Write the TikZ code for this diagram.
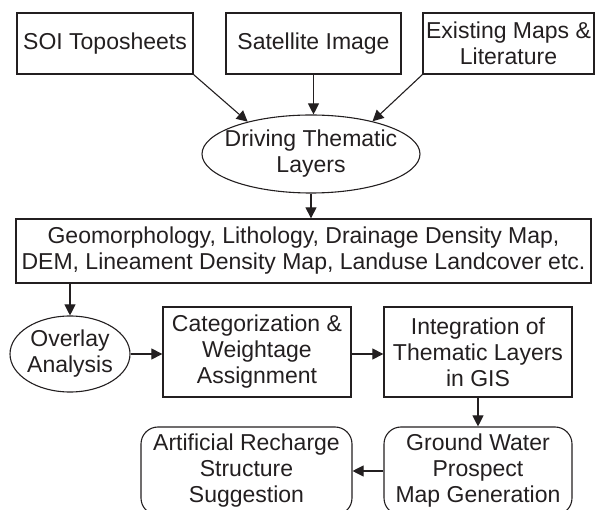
\documentclass[tikz,border=0pt]{standalone}
\usepackage{fontspec}
\setmainfont{Liberation Sans}
\usetikzlibrary{arrows.meta,shapes.geometric}
\definecolor{ink}{HTML}{231F20}
\begin{document}
\begin{tikzpicture}[x=1pt,y=-1pt,
  every node/.style={font=\fontsize{23}{26}\selectfont, text=ink, align=center},
  sqbox/.style={draw=ink, line width=1.3pt, rectangle, inner sep=0pt},
  rbox/.style={draw=ink, line width=1.1pt, rectangle, rounded corners=17pt, inner sep=0pt},
  ell/.style={draw=ink, line width=1.1pt, ellipse, inner sep=-12pt},
  arr/.style={draw=ink, line width=1.1pt, -{Triangle[length=11pt,width=11pt]}}]
\useasboundingbox (0,0) rectangle (595,510);
\clip (0,0) rectangle (595,510);
\node[sqbox, minimum width=176pt, minimum height=61pt] (soi) at (105,43.5) {SOI Toposheets};
\node[sqbox, minimum width=175pt, minimum height=61pt] (sat) at (313.5,43.5) {Satellite Image};
\node[sqbox, minimum width=171pt, minimum height=61pt] (exist) at (508.5,43.5) {Existing Maps \&\\Literature};
\node[ell, minimum width=218pt, minimum height=78pt] (drive) at (311,154) {Driving Thematic\\Layers};
\node[sqbox, minimum width=575pt, minimum height=64pt] (layers) at (303.5,251) {Geomorphology, Lithology, Drainage Density Map,\\DEM, Lineament Density Map, Landuse Landcover etc.};
\node[ell, minimum width=120pt, minimum height=76pt] (overlay) at (70,354) {Overlay\\Analysis};
\node[sqbox, minimum width=188pt, minimum height=90pt] (cat) at (257,352) {Categorization \&\\Weightage\\Assignment};
\node[sqbox, minimum width=188pt, minimum height=90pt] (integ) at (478,352) {Integration of\\Thematic Layers\\in GIS};
\node[rbox, minimum width=188pt, minimum height=88pt] (gw) at (478,471) {Ground Water\\Prospect\\Map Generation};
\node[rbox, minimum width=211pt, minimum height=88pt] (art) at (246.5,471) {Artificial Recharge\\Structure\\Suggestion};
\draw[arr] (soi.south east) -- (drive.153);
\draw[arr] (sat.south) -- (sat.south |- drive.north);
\draw[arr] (exist.south west) -- (drive.28);
\draw[arr] (drive.south) -- (drive.south |- layers.north);
\draw[arr] (overlay.north |- layers.south) -- (overlay.north);
\draw[arr] (overlay.east) -- (overlay.east -| cat.west);
\draw[arr] (cat.east |- overlay.east) -- (overlay.east -| integ.west);
\draw[arr] (integ.south) -- (gw.north);
\draw[arr] (gw.west) -- (art.east);
\end{tikzpicture}
\end{document}
